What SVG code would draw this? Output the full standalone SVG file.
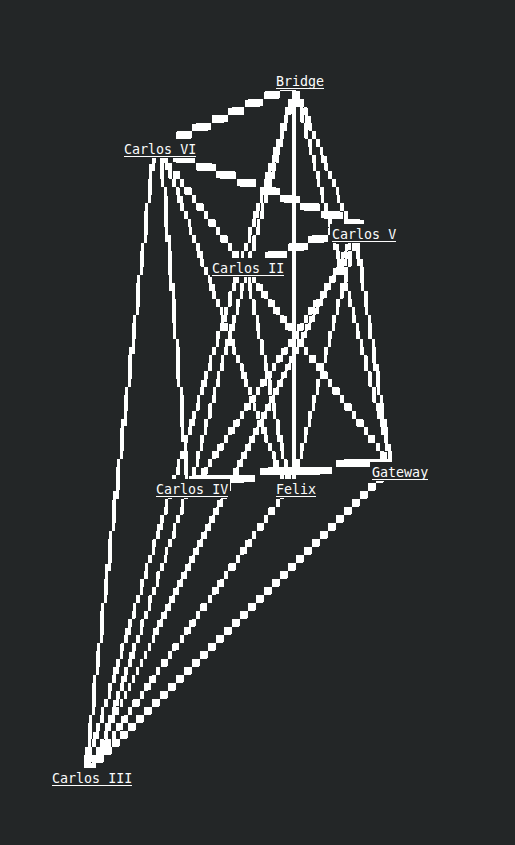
<svg xmlns="http://www.w3.org/2000/svg" width="515" height="845" viewBox="0 0 515 845">
<defs>
<style>
.lbl{font-family:"DejaVu Sans Mono","Liberation Mono",monospace;font-size:13.33px;fill:#fcfcfc}
.bg{fill:#232627}
.ul{fill:#fcfcfc}
#connectors line{stroke:#ffffff;shape-rendering:crispEdges;stroke-linecap:butt}
</style>
<filter id="px" filterUnits="userSpaceOnUse" x="0" y="0" width="515" height="845">
<feFlood flood-color="#ffffff" x="1" y="6" width="2" height="2" result="dot"/>
<feComposite in="dot" in2="dot" operator="over" x="0" y="3" width="4" height="8" result="cell"/>
<feTile in="cell" result="grid"/>
<feComposite in="SourceGraphic" in2="grid" operator="in" result="s"/>
<feMorphology in="s" operator="dilate" radius="1 3" result="d"/>
<feComponentTransfer in="d"><feFuncA type="discrete" tableValues="0 1"/></feComponentTransfer>
</filter>
</defs>
<rect width="515" height="845" fill="#232627"/>
<g id="connectors" filter="url(#px)">
<line x1="296" y1="84" x2="151" y2="150" stroke-width="5.9"/>
<line x1="294" y1="84" x2="354" y2="235" stroke-width="3"/>
<line x1="294" y1="84" x2="294" y2="488" stroke-width="3"/>
<line x1="294" y1="84" x2="393" y2="468" stroke-width="3.1"/>
<line x1="296" y1="84" x2="190" y2="487" stroke-width="3.1"/>
<line x1="296" y1="84" x2="86" y2="768" stroke-width="3.1"/>
<line x1="154" y1="150" x2="86" y2="768" stroke-width="3.2"/>
<line x1="161" y1="150" x2="188" y2="487" stroke-width="3.2"/>
<line x1="162" y1="150" x2="285" y2="488" stroke-width="3"/>
<line x1="158" y1="150" x2="393" y2="468" stroke-width="3.9"/>
<line x1="155" y1="148" x2="385" y2="235" stroke-width="6.1"/>
<line x1="350" y1="227" x2="244" y2="267" stroke-width="6.1"/>
<line x1="362" y1="235" x2="194" y2="487" stroke-width="3.6"/>
<line x1="356" y1="235" x2="292" y2="488" stroke-width="3.1"/>
<line x1="356" y1="235" x2="391" y2="468" stroke-width="3.2"/>
<line x1="354" y1="235" x2="88" y2="768" stroke-width="2.9"/>
<line x1="246" y1="268" x2="290" y2="488" stroke-width="3.1"/>
<line x1="390" y1="461" x2="190" y2="482" stroke-width="6.5"/>
<line x1="189" y1="487" x2="94" y2="768" stroke-width="3"/>
<line x1="288" y1="488" x2="90" y2="768" stroke-width="3.75"/>
<line x1="388" y1="470" x2="90" y2="768" stroke-width="4.6"/>
</g>
<g id="node-bridge"><rect class="bg" x="274" y="71" width="52" height="19"/><text class="lbl" x="276" y="86">Bridge</text><rect class="ul" x="276" y="88" width="48" height="1"/></g>
<g id="node-carlos-vi"><rect class="bg" x="122" y="139" width="76" height="19"/><text class="lbl" x="124" y="154">Carlos VI</text><rect class="ul" x="124" y="156" width="72" height="1"/></g>
<g id="node-carlos-v"><rect class="bg" x="330" y="224" width="68" height="19"/><text class="lbl" x="332" y="239">Carlos V</text><rect class="ul" x="332" y="241" width="64" height="1"/></g>
<g id="node-carlos-ii"><rect class="bg" x="210" y="258" width="76" height="19"/><text class="lbl" x="212" y="273">Carlos II</text><rect class="ul" x="212" y="275" width="72" height="1"/></g>
<g id="node-gateway"><rect class="bg" x="370" y="462" width="60" height="19"/><text class="lbl" x="372" y="477">Gateway</text><rect class="ul" x="372" y="479" width="56" height="1"/></g>
<g id="node-carlos-iv"><rect class="bg" x="154" y="479" width="76" height="19"/><text class="lbl" x="156" y="494">Carlos IV</text><rect class="ul" x="156" y="496" width="72" height="1"/></g>
<g id="node-felix"><rect class="bg" x="274" y="479" width="44" height="19"/><text class="lbl" x="276" y="494">Felix</text><rect class="ul" x="276" y="496" width="40" height="1"/></g>
<g id="node-carlos-iii"><rect class="bg" x="50" y="768" width="84" height="19"/><text class="lbl" x="52" y="783">Carlos III</text><rect class="ul" x="52" y="785" width="80" height="1"/></g>
</svg>
